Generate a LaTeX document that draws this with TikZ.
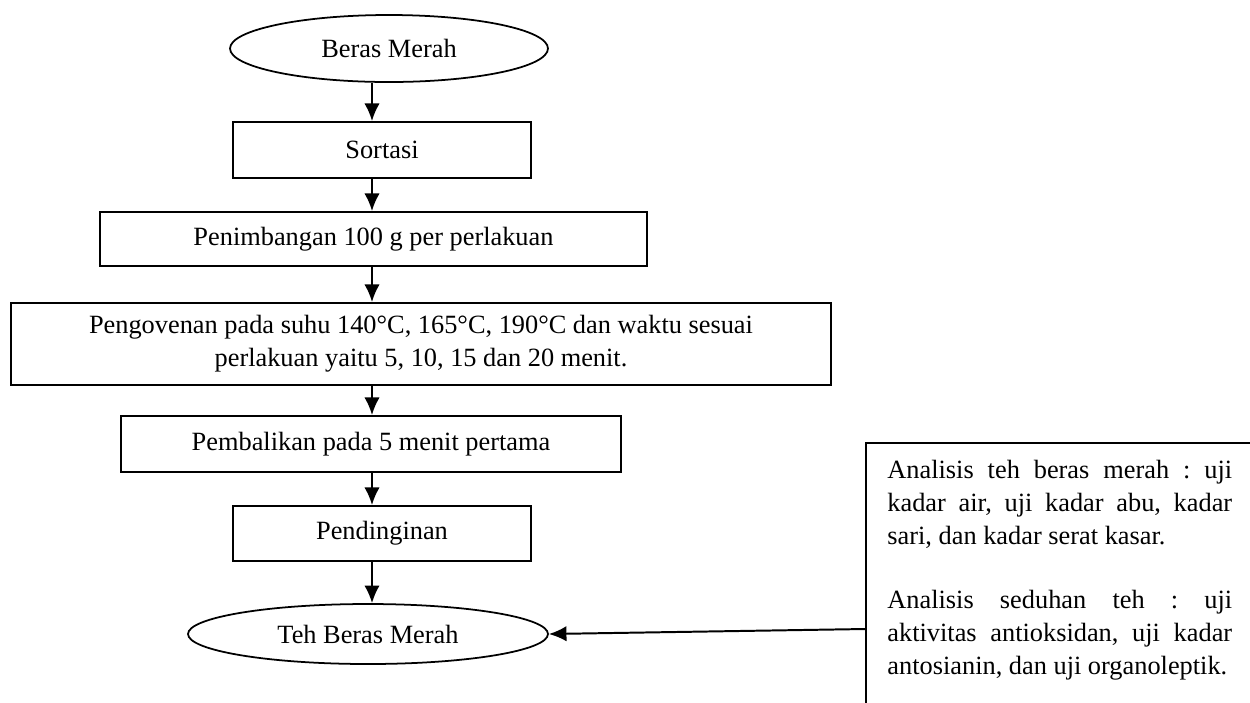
\documentclass[tikz,border=0pt]{standalone}
\usepackage{fontspec}
\setmainfont{Liberation Serif}
\usepackage{tikz}
\usetikzlibrary{shapes.geometric,arrows.meta}

\begin{document}
\begin{tikzpicture}[x=0.016cm,y=-0.016cm]
% Styles
\tikzstyle{fleche}=[->,>={Latex[length=8pt,width=7pt]},line width=0.9pt]
\tikzstyle{etape}=[draw,rectangle,line width=0.9pt,inner sep=0pt,font=\fontsize{12}{15}\selectfont]
\tikzstyle{terminal}=[draw,ellipse,line width=0.8pt,inner sep=0pt,font=\fontsize{12}{15}\selectfont]
\tikzstyle{texte}=[inner sep=0pt,text width=157pt,align=justify,font={\fontsize{12}{15}\selectfont\frenchspacing\tolerance=10000}]
% Dimensions
\def\px{0.016cm}
\def\Axe{372}
% Cadre
\useasboundingbox (0,0) rectangle (1250,702);
\clip (0,0) rectangle (1250,702);
\coordinate (axe) at (\Axe,0);
% Noeuds
\node[terminal,minimum width={318*\px},minimum height={67*\px}] (beras) at (389,48.5) {Beras Merah};
\node[etape,minimum width={298*\px},minimum height={56*\px}] (sortasi) at (382,150) {Sortasi};
\node[etape,minimum width={547*\px},minimum height={54*\px}] (timbang) at (373.5,239) {Penimbangan 100 g per perlakuan};
\node[etape,minimum width={820*\px},minimum height={82*\px},align=center] (oven) at (421,344) {Pengovenan pada suhu 140°C, 165°C, 190°C dan waktu sesuai\\perlakuan yaitu 5, 10, 15 dan 20 menit.};
\node[etape,minimum width={500*\px},minimum height={56*\px}] (balik) at (371,444) {Pembalikan pada 5 menit pertama};
\node[etape,minimum width={298*\px},minimum height={55*\px}] (dingin) at (382,533.5) {Pendinginan};
\node[terminal,minimum width={360*\px},minimum height={60*\px}] (teh) at (368,634) {Teh Beras Merah};
\node[etape,anchor=north west,minimum width={450*\px},minimum height={350*\px}] (kotak) at (865,442) {};
\node[texte,anchor=north west] (analisis) at (887,460) {Analisis teh beras merah : uji\linebreak kadar air, uji kadar abu, kadar\linebreak sari, dan kadar serat kasar.\par\vspace{14pt}Analisis seduhan teh : uji\linebreak aktivitas antioksidan, uji kadar\linebreak antosianin, dan uji organoleptik.};
\coordinate (sortie) at (865,629);
% Arcs
\draw[fleche] (beras.south -| axe)--(sortasi.north -| axe);
\draw[fleche] (sortasi.south -| axe)--(timbang.north -| axe);
\draw[fleche] (timbang.south -| axe)--(oven.north -| axe);
\draw[fleche] (oven.south -| axe)--(balik.north -| axe);
\draw[fleche] (balik.south -| axe)--(dingin.north -| axe);
\draw[fleche] (dingin.south -| axe)--(teh.north -| axe);
\draw[fleche] (sortie)--(teh.east);
\end{tikzpicture}
\end{document}
